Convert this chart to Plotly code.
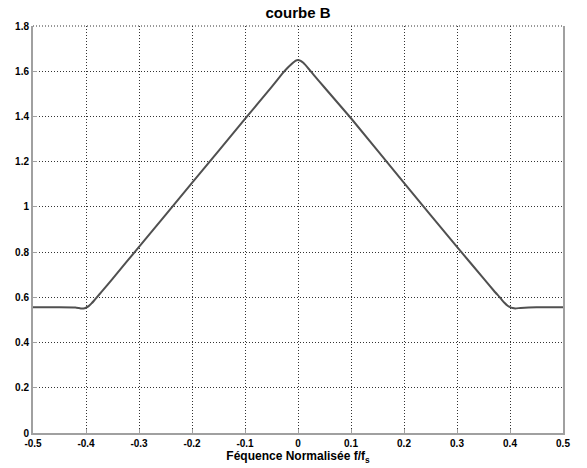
import plotly.graph_objects as go

freq = [-0.5, -0.45, -0.42, -0.41, -0.405, -0.40, -0.395, -0.39, -0.385, -0.38, -0.37, -0.35,
        -0.3, -0.2, -0.1, -0.05, -0.03, -0.02, -0.01, -0.005, 0.0, 0.005, 0.01, 0.02, 0.03, 0.05,
        0.1, 0.2, 0.3, 0.35, 0.37, 0.38, 0.385, 0.39, 0.395, 0.40, 0.405, 0.41, 0.42, 0.45, 0.5]
amp = [0.556, 0.556, 0.555, 0.551, 0.551, 0.554, 0.561, 0.572, 0.585, 0.599, 0.626, 0.682,
       0.823, 1.106, 1.389, 1.530, 1.588, 1.614, 1.636, 1.646, 1.650, 1.646, 1.637, 1.611, 1.583, 1.528,
       1.392, 1.106, 0.823, 0.684, 0.628, 0.602, 0.588, 0.575, 0.564, 0.557, 0.553, 0.551, 0.553, 0.556, 0.556]

xticks = [-0.5, -0.4, -0.3, -0.2, -0.1, 0, 0.1, 0.2, 0.3, 0.4, 0.5]
xlabels = ["-0.5", "-0.4", "-0.3", "-0.2", "-0.1", "0", "0.1", "0.2", "0.3", "0.4", "0.5"]
yticks = [0, 0.2, 0.4, 0.6, 0.8, 1.0, 1.2, 1.4, 1.6, 1.8]
ylabels = ["0", "0.2", "0.4", "0.6", "0.8", "1", "1.2", "1.4", "1.6", "1.8"]

fig = go.Figure()
fig.add_trace(go.Scatter(x=freq, y=amp, mode="lines",
                         line=dict(color="#505050", width=2, shape="spline", smoothing=0.3),
                         showlegend=False, hoverinfo="skip"))

font_fam = "Liberation Sans, Arial, sans-serif"
grid_dash = "1px,2px"
fig.update_layout(
    width=587, height=468,
    margin=dict(l=33, r=24, t=26, b=35),
    paper_bgcolor="white", plot_bgcolor="white",
    title=dict(text="<b>courbe B</b>", x=0.5, xref="paper", xanchor="center",
               y=1 - 13 / 468, yanchor="middle",
               font=dict(family=font_fam, size=15, color="black")),
    font=dict(family=font_fam, color="black"),
)
fig.update_xaxes(
    range=[-0.5, 0.5], tickvals=xticks, ticktext=["<b>%s</b>" % t for t in xlabels],
    tickfont=dict(family=font_fam, size=10, color="black"),
    showgrid=True, gridcolor="#333333", griddash=grid_dash, gridwidth=1,
    showline=True, linecolor="#a0a0a0", linewidth=2, mirror=False,
    ticks="inside", ticklen=4, tickcolor="#a0a0a0",
    zeroline=False,
    title=dict(text="<b>Féquence Normalisée f/f<sub>s</sub></b>",
               font=dict(family=font_fam, size=12, color="black"), standoff=0),
)
fig.update_yaxes(
    range=[0, 1.8], tickvals=yticks, ticktext=["<b>%s</b>" % t for t in ylabels],
    tickfont=dict(family=font_fam, size=10, color="black"),
    showgrid=True, gridcolor="#333333", griddash=grid_dash, gridwidth=1,
    showline=True, linecolor="#a0a0a0", linewidth=2, mirror=True,
    ticks="inside", ticklen=4, tickcolor="#a0a0a0",
    zeroline=False,
)
fig.add_shape(type="line", xref="paper", yref="paper", x0=0, x1=1, y0=1, y1=1,
              line=dict(color="#333333", width=1, dash=grid_dash))

fig.write_html("out.html")
